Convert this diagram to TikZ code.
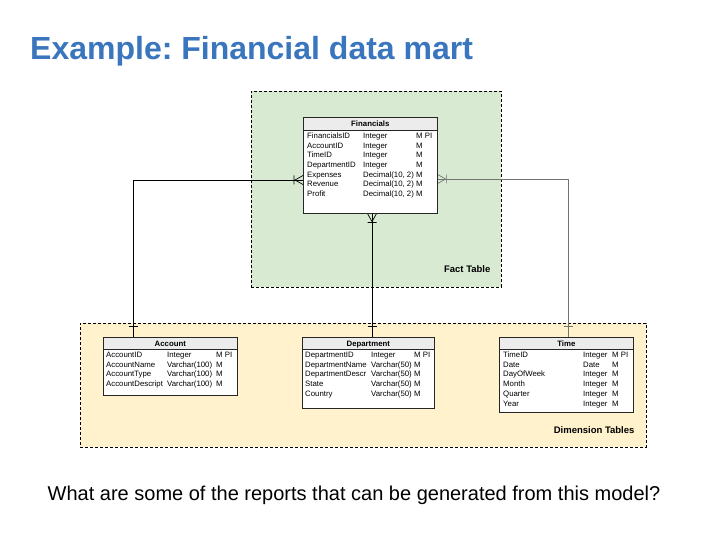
\documentclass[tikz,border=0pt]{standalone}
\usepackage{fontspec}
\setmainfont{Liberation Sans}
\usetikzlibrary{calc}
\definecolor{titleblue}{RGB}{58,118,190}
\definecolor{factgreen}{RGB}{217,234,211}
\definecolor{dimyellow}{RGB}{255,242,204}
\definecolor{hdrgray}{RGB}{236,236,236}
\frenchspacing
\begin{document}
\begin{tikzpicture}[x=1pt,y=-1pt,
  zone/.style={draw=black, dash pattern=on 3pt off 2pt, line width=0.6pt, anchor=north west, inner sep=0},
  zonelabel/.style={anchor=base east, inner sep=0, font=\bfseries\fontsize{9.5}{11}\selectfont},
  tablebox/.style={draw=black!85, fill=white, line width=0.6pt, anchor=north west, inner sep=0},
  hdr/.style={draw=black!85, fill=hdrgray, line width=0.6pt},
  hdrtext/.style={anchor=base, inner sep=0, font=\bfseries\fontsize{7.8}{9}\selectfont},
  cell/.style={anchor=base west, inner sep=0, font=\fontsize{7.8}{9}\selectfont},
  rel/.style={draw=black, line width=0.7pt},
  relgray/.style={draw=black!55, line width=0.7pt}
]
\useasboundingbox (0,0) rectangle (720,540);

% title
\node[anchor=base west, inner sep=0, text=titleblue, font=\bfseries\fontsize{32}{38}\selectfont] (title) at (30,60) {Example: Financial data mart};

% zones
\node[zone, fill=factgreen, minimum width=250pt, minimum height=196pt] (fact) at (251,91) {};
\node[zonelabel] (factlbl) at ($(fact.south east)+(-11,-15)$) {Fact Table};
\node[zone, fill=dimyellow, minimum width=566pt, minimum height=124pt] (dim) at (80,323) {};
\node[zonelabel] (dimlbl) at ($(dim.south east)+(-12,-14)$) {Dimension Tables};

% table frames
\node[tablebox, minimum width=134pt, minimum height=96pt] (fin) at (303,117) {};
\node[tablebox, minimum width=134pt, minimum height=58pt] (acc) at (103,337) {};
\node[tablebox, minimum width=132pt, minimum height=71pt] (dep) at (302,337) {};
\node[tablebox, minimum width=134pt, minimum height=75pt] (tim) at (499,337) {};

% connector end points
\coordinate (finL) at ($(fin.north west)+(0,63)$);
\coordinate (finR) at ($(fin.north east)+(0,62)$);
\coordinate (accT) at ($(acc.north west)+(30,0)$);
\coordinate (depT) at ($(dep.north west)+(70,0)$);
\coordinate (finB) at (depT |- fin.south);
\coordinate (timT) at ($(tim.north west)+(69,0)$);

% relationships
\draw[rel] (accT) |- (finL);
\draw[rel] (depT) -- (finB);
\draw[relgray] (timT) |- (finR);

% crow's feet (many) at the fact table
\draw[rel] ($(finL)+(-8,0)$) -- ($(finL)+(0,-4.5)$) ($(finL)+(-8,0)$) -- ($(finL)+(0,4.5)$)
           ($(finL)+(-9,-4.5)$) -- ($(finL)+(-9,4.5)$);
\draw[rel] ($(finB)+(0,8)$) -- ($(finB)+(-4.5,0)$) ($(finB)+(0,8)$) -- ($(finB)+(4.5,0)$)
           ($(finB)+(-4.5,9)$) -- ($(finB)+(4.5,9)$);
\draw[relgray] ($(finR)+(8,0)$) -- ($(finR)+(0,-4.5)$) ($(finR)+(8,0)$) -- ($(finR)+(0,4.5)$)
           ($(finR)+(9,-4.5)$) -- ($(finR)+(9,4.5)$);
% bars (one) at the dimension tables
\draw[rel] ($(accT)+(-4.5,-11)$) -- ($(accT)+(4.5,-11)$);
\draw[rel] ($(depT)+(-4.5,-11)$) -- ($(depT)+(4.5,-11)$);
\draw[relgray] ($(timT)+(-4.5,-11)$) -- ($(timT)+(4.5,-11)$);

% redraw frames over the lines
\draw[tablebox] (fin.north west) rectangle (fin.south east);
\draw[tablebox] (acc.north west) rectangle (acc.south east);
\draw[tablebox] (dep.north west) rectangle (dep.south east);
\draw[tablebox] (tim.north west) rectangle (tim.south east);

% headers
\draw[hdr] (fin.north west) rectangle ($(fin.north east)+(0,13)$);
\node[hdrtext] (fin-h) at ($(fin.north)+(0,9.6)$) {Financials};
\draw[hdr] (acc.north west) rectangle ($(acc.north east)+(0,12)$);
\node[hdrtext] (acc-h) at ($(acc.north)+(0,9)$) {Account};
\draw[hdr] (dep.north west) rectangle ($(dep.north east)+(0,12)$);
\node[hdrtext] (dep-h) at ($(dep.north)+(0,9)$) {Department};
\draw[hdr] (tim.north west) rectangle ($(tim.north east)+(0,12)$);
\node[hdrtext] (tim-h) at ($(tim.north)+(0,9)$) {Time};

% Financials rows
\foreach \n/\t/\f [count=\i] in {FinancialsID/Integer/M PI, AccountID/Integer/M, TimeID/Integer/M,
    DepartmentID/Integer/M, Expenses/{Decimal(10, 2)}/M, Revenue/{Decimal(10, 2)}/M, Profit/{Decimal(10, 2)}/M} {
  \node[cell] (fin-n\i) at ($(fin.north west)+(4,{21.5+9.7*(\i-1)})$) {\n};
  \node[cell] (fin-t\i) at ($(fin.north west)+(60,{21.5+9.7*(\i-1)})$) {\t};
  \node[cell] (fin-f\i) at ($(fin.north west)+(113,{21.5+9.7*(\i-1)})$) {\f};
}
% Account rows
\foreach \n/\t/\f [count=\i] in {AccountID/Integer/M PI, AccountName/Varchar(100)/M,
    AccountType/Varchar(100)/M, AccountDescript/Varchar(100)/M} {
  \node[cell] (acc-n\i) at ($(acc.north west)+(3,{20.5+9.7*(\i-1)})$) {\n};
  \node[cell] (acc-t\i) at ($(acc.north west)+(64,{20.5+9.7*(\i-1)})$) {\t};
  \node[cell] (acc-f\i) at ($(acc.north west)+(113,{20.5+9.7*(\i-1)})$) {\f};
}
% Department rows
\foreach \n/\t/\f [count=\i] in {DepartmentID/Integer/M PI, DepartmentName/Varchar(50)/M,
    DepartmentDescr/Varchar(50)/M, State/Varchar(50)/M, Country/Varchar(50)/M} {
  \node[cell] (dep-n\i) at ($(dep.north west)+(3,{20.5+9.7*(\i-1)})$) {\n};
  \node[cell] (dep-t\i) at ($(dep.north west)+(69,{20.5+9.7*(\i-1)})$) {\t};
  \node[cell] (dep-f\i) at ($(dep.north west)+(112,{20.5+9.7*(\i-1)})$) {\f};
}
% Time rows
\foreach \n/\t/\f [count=\i] in {TimeID/Integer/M PI, Date/Date/M, DayOfWeek/Integer/M,
    Month/Integer/M, Quarter/Integer/M, Year/Integer/M} {
  \node[cell] (tim-n\i) at ($(tim.north west)+(4,{20.5+9.7*(\i-1)})$) {\n};
  \node[cell] (tim-t\i) at ($(tim.north west)+(84,{20.5+9.7*(\i-1)})$) {\t};
  \node[cell] (tim-f\i) at ($(tim.north west)+(113,{20.5+9.7*(\i-1)})$) {\f};
}

% question
\node[anchor=base, inner sep=0, font=\fontsize{20}{24}\selectfont] (question) at (354,500)
  {What are some of the reports that can be generated from this model?};
\end{tikzpicture}
\end{document}
